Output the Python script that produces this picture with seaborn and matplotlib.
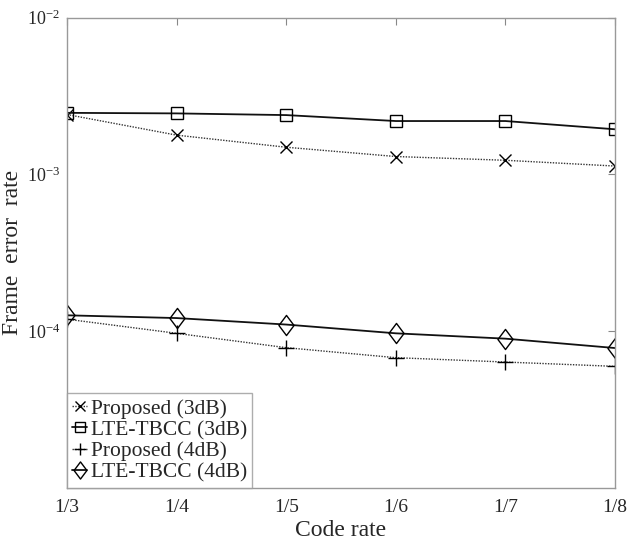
import numpy as np
import pandas as pd
import matplotlib
matplotlib.use("Agg")
import matplotlib.pyplot as plt
from matplotlib.path import Path
import seaborn as sns

code_rates = ["1/3", "1/4", "1/5", "1/6", "1/7", "1/8"]
proposed_3db = [2.41e-3, 1.78e-3, 1.49e-3, 1.30e-3, 1.23e-3, 1.13e-3]
lte_tbcc_3db = [2.47e-3, 2.45e-3, 2.39e-3, 2.19e-3, 2.19e-3, 1.94e-3]
proposed_4db = [1.19e-4, 0.967e-4, 0.783e-4, 0.676e-4, 0.634e-4, 0.595e-4]
lte_tbcc_4db = [1.26e-4, 1.21e-4, 1.10e-4, 0.967e-4, 0.894e-4, 0.779e-4]
series_names = ["Proposed (3dB)", "LTE-TBCC (3dB)", "Proposed (4dB)", "LTE-TBCC (4dB)"]
y_ticks = [1e-4, 1e-3, 1e-2]

sns.set_style("white")
plt.rcParams["font.family"] = ["Liberation Serif", "DejaVu Serif"]
plt.rcParams["mathtext.fontset"] = "custom"
plt.rcParams["mathtext.rm"] = "Liberation Serif"
plt.rcParams["mathtext.it"] = "Liberation Serif:italic"

diamond = Path([(0, 1), (0.75, 0), (0, -1), (-0.75, 0), (0, 1)],
               [Path.MOVETO, Path.LINETO, Path.LINETO, Path.LINETO, Path.CLOSEPOLY])

fig = plt.figure(figsize=(6.27, 5.42), dpi=100)
ax = fig.add_axes([67 / 627, 1 - 487.7 / 542, (615 - 67) / 627, (487.7 - 17.7) / 542])

styles = [
    dict(marker="x", linestyle=(0, (1, 1)), color="#333333", lw=1.0, ms=9, mew=1.0),
    dict(marker="s", linestyle="-", color="#111111", lw=1.3, ms=9, mew=1.0),
    dict(marker="+", linestyle=(0, (1, 1)), color="#333333", lw=1.0, ms=11, mew=1.0),
    dict(marker=diamond, linestyle="-", color="#111111", lw=1.3, ms=14.5, mew=1.0),
]
all_vals = [proposed_3db, lte_tbcc_3db, proposed_4db, lte_tbcc_4db]
for name, vals, st in zip(series_names, all_vals, styles):
    df = pd.DataFrame({"x": np.arange(len(code_rates)), "y": vals})
    sns.lineplot(data=df, x="x", y="y", ax=ax, label=name,
                 color=st["color"], linewidth=st["lw"], linestyle=st["linestyle"],
                 marker=st["marker"], markersize=st["ms"], markeredgewidth=st["mew"],
                 markerfacecolor="none", markeredgecolor="black")

ax.set_yscale("log")
ax.set_ylim(1e-5, 1e-2)
ax.set_xlim(0, len(code_rates) - 1)
ax.set_xticks(np.arange(len(code_rates)))
ax.set_xticklabels(code_rates)
ax.set_yticks(y_ticks)
ax.set_yticklabels([r"$10^{-4}$", r"$10^{-3}$", r"$10^{-2}$"])
ax.yaxis.set_minor_locator(matplotlib.ticker.NullLocator())
ax.tick_params(axis="both", which="major", direction="in", length=5, width=0.8,
               color="#888888", top=True, right=True)
ax.tick_params(axis="x", pad=8, labelsize=14)
ax.tick_params(axis="y", pad=5, labelsize=13)
for s in ax.spines.values():
    s.set_color("#999999")
    s.set_linewidth(1.0)

ax.set_xlabel("Code rate", fontsize=17)
ax.set_ylabel("Frame  error  rate", fontsize=17)
ax.xaxis.set_label_coords(0.5, -0.068)
ax.yaxis.set_label_coords(-0.08, 0.5)

leg = ax.legend(loc="lower left", bbox_to_anchor=(0, 0), borderaxespad=0,
                fontsize=15.5, handlelength=0.7, handletextpad=0.15,
                labelspacing=0.05, borderpad=0.25, fancybox=False, frameon=True)
leg.get_frame().set_edgecolor("#999999")
leg.get_frame().set_linewidth(1.0)
for h in leg.legend_handles:
    h.set_markersize(h.get_markersize() * 0.85)

fig.savefig("out.png", dpi=100)
